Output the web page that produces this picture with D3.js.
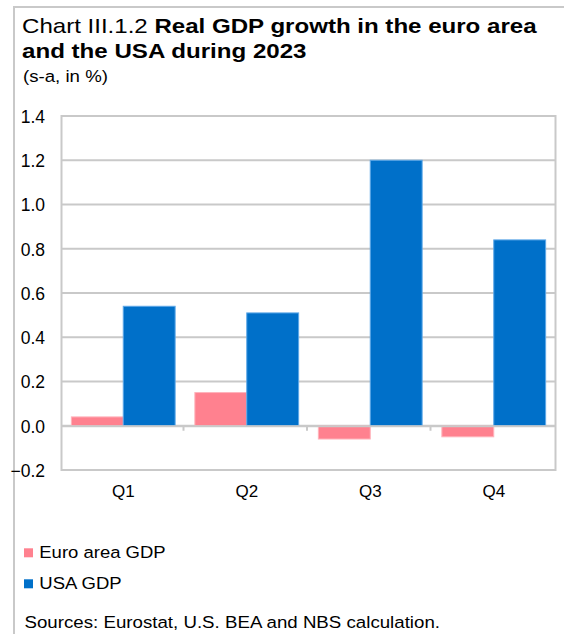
<!DOCTYPE html>
<html>
<head>
<meta charset="utf-8">
<script src="https://cdn.jsdelivr.net/npm/d3@7/dist/d3.min.js"></script>
<style>
  html, body { margin: 0; padding: 0; background: #fff; }
  svg { display: block; font-family: "Liberation Sans", Arial, sans-serif; }
</style>
</head>
<body>
<svg id="chart" width="564" height="634"></svg>
<script>
// Quarterly real GDP growth, s-a, %
const quarters = ["Q1", "Q2", "Q3", "Q4"];
const seriesNames = ["Euro area GDP", "USA GDP"];
const euroAreaGDP = [0.04, 0.15, -0.06, -0.05];
const usaGDP = [0.54, 0.51, 1.2, 0.84];
const yTicks = [-0.2, 0.0, 0.2, 0.4, 0.6, 0.8, 1.0, 1.2, 1.4];
const seriesColors = ["#ff818f", "#0070c9"];
const seriesStrokes = ["#ffb3bb", "#5ea8e8"];

const svg = d3.select("#chart");
const W = 564, H = 634;
const grid = "#c9c9c9";

// left-anchored text, widened horizontally to a given run length
function wideText(parent, x, y, width) {
  const t = parent.append("text").attr("x", 0).attr("y", 0);
  t.fit = () => {
    const len = t.node().getComputedTextLength();
    t.attr("transform", `translate(${x},${y}) scale(${width / len},1)`);
    return t;
  };
  return t;
}

// outer frame (top and left edges)
svg.append("path")
  .attr("d", `M14,${H} L14,7 L${W},7`)
  .attr("fill", "none").attr("stroke", grid).attr("stroke-width", 2);

// title
const title = wideText(svg, 22, 33.3, 515).attr("font-size", 21).attr("fill", "#000");
title.append("tspan").text("Chart III.1.2 ");
title.append("tspan").attr("font-weight", "bold").text("Real GDP growth in the euro area");
title.fit();
wideText(svg, 22, 58.3, 284.6).attr("font-size", 21).attr("font-weight", "bold")
  .text("and the USA during 2023").fit();
wideText(svg, 23, 82, 85).attr("font-size", 17).text("(s-a, in %)").fit();

// plot area
const plot = { left: 61.5, right: 555.5, top: 116, bottom: 470 };

const y = d3.scaleLinear().domain([-0.2, 1.4]).range([plot.bottom, plot.top]);
const x0 = d3.scaleBand().domain(quarters).range([plot.left, plot.right]).padding(0);
const x1 = d3.scaleBand().domain(seriesNames).range([0, x0.bandwidth()])
  .paddingInner(0).paddingOuter(0.19);

// horizontal gridlines
svg.append("g").selectAll("line").data(yTicks).join("line")
  .attr("x1", plot.left).attr("x2", plot.right)
  .attr("y1", d => y(d)).attr("y2", d => y(d))
  .attr("stroke", grid).attr("stroke-width", 2);

// plot border
svg.append("rect")
  .attr("x", plot.left).attr("y", plot.top)
  .attr("width", plot.right - plot.left).attr("height", plot.bottom - plot.top)
  .attr("fill", "none").attr("stroke", grid).attr("stroke-width", 2);

// y axis labels
const yAxis = d3.axisLeft(y).tickValues(yTicks).tickSize(0).tickPadding(0)
  .tickFormat(d3.format(".1f"));
const yg = svg.append("g").attr("transform", "translate(45,0)").call(yAxis);
yg.select(".domain").remove();
yg.selectAll("text").attr("font-size", 17.5).attr("font-family", "Liberation Sans, Arial, sans-serif")
  .attr("fill", "#000").attr("dy", "0.36em");

// bars
const data = quarters.map((q, i) => ({ q, values: [euroAreaGDP[i], usaGDP[i]] }));
const groups = svg.append("g").selectAll("g").data(data).join("g")
  .attr("transform", d => `translate(${x0(d.q)},0)`);
groups.selectAll("rect").data(d => d.values.map((v, j) => ({ v, j })))
  .join("rect")
  .attr("x", d => x1(seriesNames[d.j]))
  .attr("width", x1.bandwidth())
  .attr("y", d => y(Math.max(0, d.v)))
  .attr("height", d => Math.abs(y(d.v) - y(0)))
  .attr("fill", d => seriesColors[d.j])
  .attr("stroke", d => seriesStrokes[d.j]).attr("stroke-width", 1);

// zero axis with category ticks
const xAxis = d3.axisBottom(x0).tickSize(0).tickPadding(0).tickFormat("");
const zg = svg.append("g").attr("transform", `translate(0,${y(0)})`).call(xAxis);
zg.select(".domain").attr("stroke", grid).attr("stroke-width", 2);
zg.selectAll(".tick").remove();
svg.append("g").selectAll("line").data(quarters.slice(1)).join("line")
  .attr("x1", d => x0(d) - 1.5).attr("x2", d => x0(d) - 1.5)
  .attr("y1", y(0)).attr("y2", y(0) + 5)
  .attr("stroke", grid).attr("stroke-width", 2);

// category labels
svg.append("g").selectAll("text").data(quarters).join("text")
  .attr("x", d => x0(d) + x0.bandwidth() / 2)
  .attr("y", 497.3)
  .attr("text-anchor", "middle").attr("font-size", 17)
  .text(d => d);

// legend
const legendWidths = [126.4, 82.4];
const legend = svg.append("g").selectAll("g").data(seriesNames).join("g")
  .attr("transform", (d, i) => `translate(24,${548.3 + i * 31})`);
legend.append("rect").attr("width", 9).attr("height", 9)
  .attr("fill", (d, i) => seriesColors[i]);
legend.each(function (d, i) {
  wideText(d3.select(this), 15.3, 9.2, legendWidths[i]).attr("font-size", 17).text(d).fit();
});

// source note
wideText(svg, 24.5, 628.3, 415.7).attr("font-size", 17)
  .text("Sources: Eurostat, U.S. BEA and NBS calculation.").fit();
</script>
</body>
</html>
